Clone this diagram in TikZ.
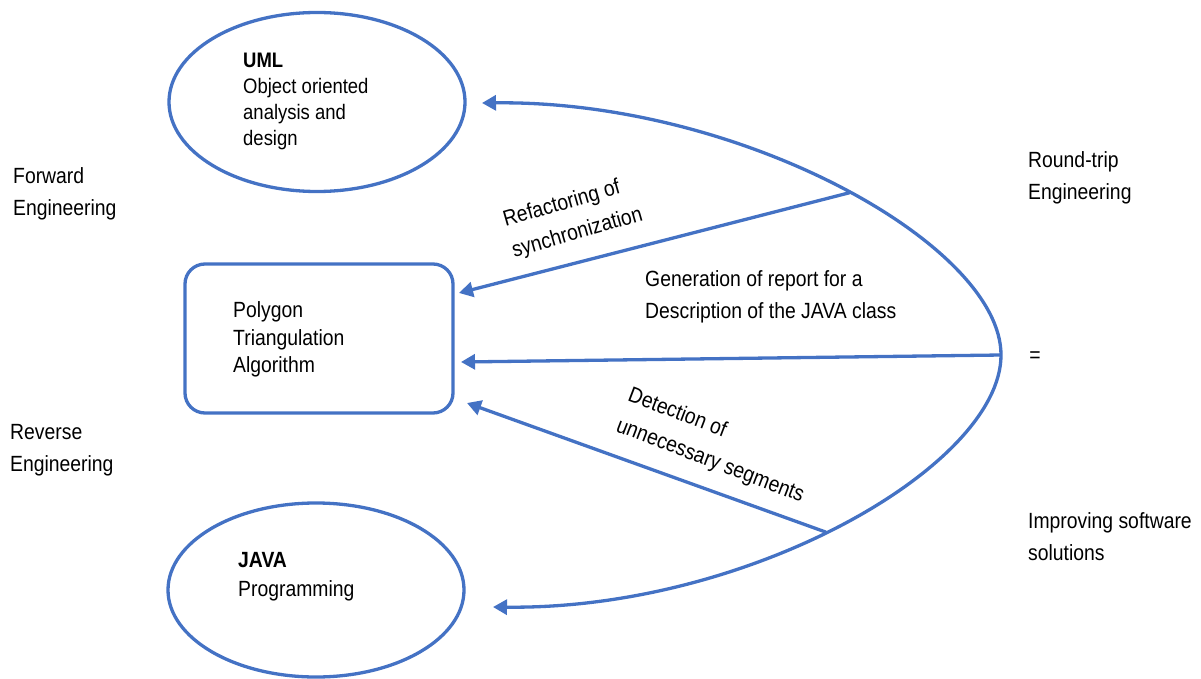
\documentclass[tikz,border=0pt]{standalone}
\usepackage{fontspec}
\setmainfont{Liberation Sans}[FakeStretch=0.88]
\usetikzlibrary{arrows.meta,shapes.geometric}
\definecolor{accent}{HTML}{4472C4}
\begin{document}
\begin{tikzpicture}[x=1pt,y=-1pt,
  edge/.style={draw=accent, line width=3.3pt},
  tip/.style={-{Triangle[length=14pt,width=15pt]}},
  arr/.style={edge, tip},
  oval/.style={draw=accent, line width=3.3pt, ellipse, inner sep=0pt},
  algobox/.style={draw=accent, line width=3.3pt, rectangle, rounded corners=20pt, inner sep=0pt,
    minimum width=268pt, minimum height=149pt},
  lbl/.style={font=\fontsize{22}{32}\selectfont, align=left, inner sep=0pt, anchor=west},
  ovaltext/.style={font=\fontsize{21}{26}\selectfont, align=left, inner sep=0pt, anchor=west},
  boxtext/.style={font=\fontsize{22}{27.5}\selectfont, align=left, inner sep=0pt, anchor=west},
  javatext/.style={font=\fontsize{22}{29}\selectfont, align=left, inner sep=0pt, anchor=west}]
\useasboundingbox (0,0) rectangle (1201,679);

% model shapes
\node[oval, minimum width=296pt, minimum height=179pt] (uml) at (317,102) {};
\node[ovaltext] (umltext) at (243,101) {\textbf{UML}\\Object oriented\\analysis and\\design};
\node[oval, minimum width=296pt, minimum height=174pt] (java) at (316,590) {};
\node[javatext] (javatext) at (238,577) {\textbf{JAVA}\\Programming};
\node[algobox] (algo) at (319,338.5) {};
\node[boxtext] (algotext) at (233,339.5) {Polygon\\Triangulation\\Algorithm};

% arrow tip positions
\coordinate (umltip) at (482,103);
\coordinate (javatip) at (493,607);
\coordinate (rt) at (1001,355);
\coordinate (tipA) at (459,293);
\coordinate (tipB) at (461,362);
\coordinate (tipC) at (467,403);

% round-trip arc
\draw[edge, {Triangle[length=14pt,width=15pt]}-{Triangle[length=14pt,width=15pt]}]
  (umltip) .. controls (740,100) and (1001,245) .. (rt) coordinate[pos=0.52] (j1)
  .. controls (1001,465) and (750,610) .. (javatip) coordinate[pos=0.53] (j2);

% feedback arrows
\draw[arr] (j1) -- (tipA);
\draw[arr] (rt) -- (tipB);
\draw[arr] (j2) -- (tipC);

% arrow labels
\node[lbl, anchor=center, rotate=16] (refac) at (573,218) {Refactoring of\\synchronization};
\node[lbl, anchor=west] (gen) at (645,297) {Generation of report for a\\Description of the JAVA class};
\node[lbl, anchor=center, rotate=-21, font=\fontsize{22}{33}\selectfont] (detect) at (716,446) {Detection of\\unnecessary segments};

% side labels
\node[lbl] (fwd) at (13,194) {Forward\\Engineering};
\node[lbl] (rev) at (10,450.5) {Reverse\\Engineering};
\node[lbl] (rtrip) at (1028,178) {Round-trip\\Engineering};
\node[lbl, anchor=center] (eq) at (1035,357) {=};
\node[lbl] (improve) at (1028,536.5) {Improving software\\solutions};
\end{tikzpicture}
\end{document}
